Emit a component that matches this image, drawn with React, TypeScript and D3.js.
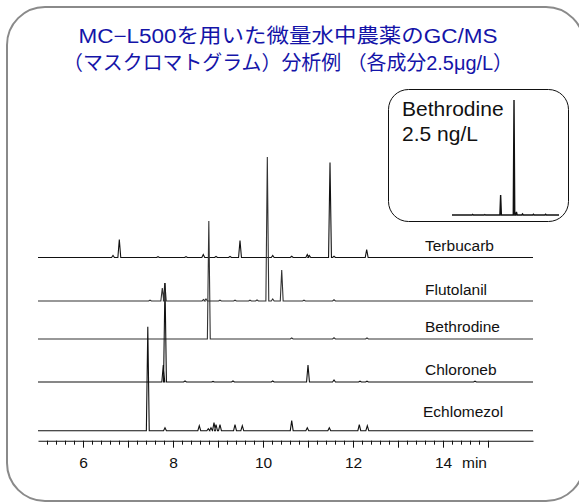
import React, { useEffect, useRef } from "react";
import * as d3 from "d3";

// retention time (min), peak height
const traceNames = ["Terbucarb", "Flutolanil", "Bethrodine", "Chloroneb", "Echlomezol"];

const terbucarb: [number, number][] = [
  [6.667, 2], [6.807, 18], [7.667, 0.8], [8.289, 0.8], [8.673, 3], [8.956, 1],
  [9.267, 1], [9.489, 17], [10.216, 2], [10.638, 1.2], [10.984, 3], [11.029, 2],
  [11.489, 95], [11.578, 1.2], [12.304, 8],
];
const flutolanil: [number, number][] = [
  [7.489, 0.8], [7.762, 13], [7.818, 18], [8.678, 1.5], [8.733, 2], [9.044, 0.8],
  [9.378, 0.8], [9.711, 0.8], [9.867, 1], [10.096, 144], [10.216, 2], [10.416, 31],
  [10.911, 0.8], [11.578, 1.2],
];
const bethrodine: [number, number][] = [
  [8.796, 118], [10.638, 1], [11.578, 1.2], [12.311, 1],
];
const chloroneb: [number, number][] = [
  [7.784, 17], [7.822, 99], [8.267, 1], [8.889, 0.6], [9.333, 1], [10.216, 1],
  [11.0, 17], [11.578, 2], [12.156, 0.8], [12.311, 0.8], [14.711, 0.8],
];
const echlomezol: [number, number][] = [
  [7.44, 104], [7.822, 3], [8.584, 5], [8.784, 2], [8.844, 3], [8.911, 8],
  [8.956, 6], [9.044, 6], [9.378, 6], [9.54, 5], [10.638, 10], [10.984, 3],
  [11.473, 3], [12.14, 6], [12.318, 5],
];
const traces = [terbucarb, flutolanil, bethrodine, chloroneb, echlomezol];

// inset: Bethrodine at 2.5 ng/L
const insetPeaks: [number, number][] = [
  [8.45, 0.6], [8.55, 0.5], [8.68, 20], [8.79, 115], [8.81, 3], [8.86, 1],
  [8.95, 0.8], [9.05, 0.8],
];

const majorTicks = [6, 7, 8, 9, 10, 11, 12, 13, 14, 15];
const tickLabels = [6, 8, 10, 12, 14];

const titleLines = [
  "MC−L500を用いた微量水中農薬のGC/MS",
  "（マスクロマトグラム）分析例 （各成分2.5μg/L）",
];

const App: React.FC = () => {
  const svgRef = useRef<SVGSVGElement | null>(null);

  useEffect(() => {
    if (!svgRef.current) return;
    const width = 579;
    const height = 502;

    d3.select(svgRef.current).selectAll("*").remove();
    const svg = d3.select(svgRef.current).attr("width", width).attr("height", height);

    svg.append("rect").attr("width", width).attr("height", height).attr("fill", "#fff");

    // outer frame
    svg
      .append("rect")
      .attr("x", 7)
      .attr("y", 7)
      .attr("width", 577)
      .attr("height", 494)
      .attr("rx", 38)
      .attr("fill", "none")
      .attr("stroke", "#8a8a8a")
      .attr("stroke-width", 2);

    const font = "'Liberation Sans', Arial, 'Noto Sans CJK JP', sans-serif";

    // title
    const titleWidths = [419, 450];
    svg
      .selectAll(".title")
      .data(titleLines)
      .enter()
      .append("text")
      .attr("x", 288)
      .attr("y", (d, i) => 43 + i * 27)
      .attr("text-anchor", "middle")
      .attr("textLength", (d, i) => titleWidths[i])
      .attr("lengthAdjust", "spacingAndGlyphs")
      .attr("fill", "#1414a8")
      .style("font-family", "'Liberation Sans', 'Noto Sans CJK JP', sans-serif")
      .style("font-size", "20px")
      .text((d) => d);

    const x = d3.scaleLinear().domain([5, 16]).range([38, 533]);
    const y = d3.scaleLinear().domain([0, 150]).range([0, 150]);
    const baselines = [257.5, 301, 339, 382, 430.7];
    const labelOffsets = [7, 6, 7, 7, 14];
    const hw = 0.032;

    const buildPoints = (peaks: [number, number][], dom: number[], w: number) => {
      const pts: [number, number][] = [[dom[0], 0]];
      peaks
        .slice()
        .sort((a, b) => a[0] - b[0])
        .forEach(([t, h]) => {
          pts.push([t - w, 0], [t, h], [t + w, 0]);
        });
      pts.push([dom[1], 0]);
      return pts;
    };

    traces.forEach((peaks, i) => {
      const line = d3
        .line<[number, number]>()
        .x((d) => x(d[0]))
        .y((d) => baselines[i] - y(d[1]));
      svg
        .append("path")
        .attr("d", line(buildPoints(peaks, x.domain(), hw)))
        .attr("fill", "none")
        .attr("stroke", i === 1 || i === 2 ? "#333" : "#111")
        .attr("stroke-width", 1.1);
    });

    // trace labels
    svg
      .selectAll(".lbl")
      .data(traceNames)
      .enter()
      .append("text")
      .attr("x", (d, i) => (i === 4 ? 423 : 425))
      .attr("y", (d, i) => baselines[i] - labelOffsets[i])
      .style("font-family", font)
      .style("font-size", "15.5px")
      .attr("fill", "#111")
      .text((d) => d);

    // time axis
    const axisY = 440.7;
    const gMinor = svg
      .append("g")
      .attr("transform", `translate(0,${axisY})`)
      .call(
        d3
          .axisBottom(x)
          .tickValues(d3.range(5.2, 15.01, 0.2).filter((v) => Math.abs(v - Math.round(v)) > 0.01))
          .tickSize(4)
          .tickSizeOuter(0)
          .tickFormat(() => "")
      );
    gMinor.select(".domain").attr("stroke", "#111").attr("stroke-width", 1.1);
    gMinor.selectAll("line").attr("stroke", "#111");

    const gMajor = svg
      .append("g")
      .attr("transform", `translate(0,${axisY})`)
      .call(
        d3
          .axisBottom(x)
          .tickValues(majorTicks)
          .tickSize(7)
          .tickSizeOuter(0)
          .tickFormat((d) => (tickLabels.includes(d as number) ? String(d) : ""))
      );
    gMajor.select(".domain").remove();
    gMajor.selectAll("line").attr("stroke", "#111");
    gMajor
      .selectAll("text")
      .attr("dy", "0")
      .attr("y", 27)
      .attr("fill", "#111")
      .style("font-family", font)
      .style("font-size", "15.5px");

    svg
      .append("text")
      .attr("x", x(14) + 19)
      .attr("y", axisY + 27)
      .style("font-family", font)
      .style("font-size", "15.5px")
      .attr("fill", "#111")
      .text("min");

    // inset
    svg
      .append("rect")
      .attr("x", 388.5)
      .attr("y", 89.5)
      .attr("width", 180)
      .attr("height", 132)
      .attr("rx", 20)
      .attr("fill", "#fff")
      .attr("stroke", "#111")
      .attr("stroke-width", 1);

    svg
      .selectAll(".inset-lbl")
      .data(["Bethrodine", "2.5 ng/L"])
      .enter()
      .append("text")
      .attr("x", 402)
      .attr("y", (d, i) => 116 + i * 25)
      .style("font-family", font)
      .style("font-size", "21px")
      .attr("fill", "#111")
      .text((d) => d);

    const xi = d3.scaleLinear().domain([8.28, 9.16]).range([452, 559]);
    const insetLine = d3
      .line<[number, number]>()
      .x((d) => xi(d[0]))
      .y((d) => 215 - y(d[1]));
    svg
      .append("path")
      .attr("d", insetLine(buildPoints(insetPeaks, xi.domain(), 0.006)))
      .attr("fill", "none")
      .attr("stroke", "#111")
      .attr("stroke-width", 1.4);
  }, []);

  return (
    <div style={{ position: "absolute", left: 0, top: 0 }}>
      <svg ref={svgRef}></svg>
    </div>
  );
};

export default App;
